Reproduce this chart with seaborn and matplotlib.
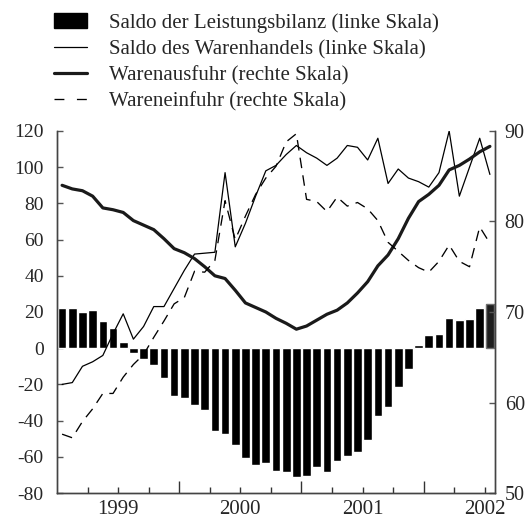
import matplotlib
matplotlib.use("Agg")
import matplotlib.pyplot as plt
import seaborn as sns
import numpy as np
import pandas as pd
from matplotlib.patches import Patch
from matplotlib.lines import Line2D

# monthly data, Jan 1999 .. Jul 2002
months = pd.period_range("1999-01", "2002-07", freq="M").astype(str).tolist()

current_account = [22.1, 22.1, 19.9, 21.0, 15.1, 11.0, 3.3,
                   -2.6, -5.9, -9.2, -16.4, -26.3, -27.6, -31.3, -34.1,
                   -45.9, -47.3, -53.4, -60.6, -64.5, -63.5, -67.8, -68.5,
                   -71.1, -70.5, -65.6, -68.3, -62.2, -59.3, -57.3, -50.8,
                   -37.4, -32.4, -21.4, -11.4,
                   1.7, 7.4, 7.9, 16.6, 15.5, 16.0, 22.1, 24.3]
trade_balance = [-20, -19, -10, -7.5, -4, 8, 19, 5, 12, 23,
                 23, 33, 43, 52, 52.5, 53, 97, 56, 69, 84,
                 98, 101, 107, 112, 108, 105, 101, 105, 112, 111,
                 104, 116, 91, 99, 94, 92, 89, 97, 120, 84,
                 100, 116, 96]
exports = [84.0, 83.6, 83.4, 82.8, 81.5, 81.3, 81.0, 80.1, 79.6, 79.1,
           78.1, 77.0, 76.55, 75.9, 75.0, 74.0, 73.7, 72.4, 71.0, 70.5,
           70.0, 69.3, 68.75, 68.1, 68.45, 69.1, 69.75, 70.2, 71.0, 72.1,
           73.35, 75.1, 76.3, 78.1, 80.35, 82.2, 83.0, 84.0, 85.7, 86.2,
           86.9, 87.7, 88.3]
imports = [56.5, 56.1, 57.9, 59.3, 61.0, 61.0, 62.8, 64.2, 65.3, 67.2,
           69.0, 70.9, 71.6, 74.5, 74.4, 75.7, 82.3, 78.0, 80.6, 83.0,
           84.8, 86.1, 88.8, 89.7, 82.45, 82.2, 81.1, 82.7, 81.7, 82.1,
           81.4, 80.1, 77.7, 76.7, 75.7, 74.9, 74.4, 75.6, 77.4, 75.6,
           75.0, 79.4, 77.6]
year_labels = ["1999", "2000", "2001", "2002"]
left_ticks = [-80, -60, -40, -20, 0, 20, 40, 60, 80, 100, 120]
right_ticks = [50, 60, 70, 80, 90]
legend_labels = ["Saldo der Leistungsbilanz (linke Skala)",
                 "Saldo des Warenhandels (linke Skala)",
                 "Warenausfuhr (rechte Skala)",
                 "Wareneinfuhr (rechte Skala)"]

df = pd.DataFrame({"month": months, "ca": current_account, "tb": trade_balance,
                   "exp": exports, "imp": imports})
df["t"] = np.arange(len(df))

sns.set_style("ticks")
plt.rcParams['font.family'] = ['Liberation Serif', 'DejaVu Serif']
plt.rcParams['axes.unicode_minus'] = False

W, H = 528, 518
fig = plt.figure(figsize=(W / 100, H / 100), dpi=100)
ax = fig.add_axes([57 / W, 25 / H, 438 / W, 362 / H])

sns.barplot(data=df, x="t", y="ca", native_scale=True, color="black",
            saturation=1, width=0.85, errorbar=None, ax=ax, zorder=1)
last = ax.patches[-1]
last.set_facecolor("#1e1e1e")
last.set_edgecolor("#707070")
last.set_linewidth(1.0)

sns.lineplot(data=df, x="t", y="tb", ax=ax, color="black", linewidth=0.9, zorder=3)

ax2 = ax.twinx()
sns.lineplot(data=df, x="t", y="exp", ax=ax2, color="#1a1a1a", linewidth=2.3)
sns.lineplot(data=df, x="t", y="imp", ax=ax2, color="black", linewidth=0.95,
             linestyle="--")
ax2.lines[-1].set_dashes([8, 5.5])

ax.set_xlim(-0.5, 42.5)
ax.set_ylim(-80, 120)
ax2.set_ylim(50, 90)

# x ticks: long at year boundaries, short at quarters, labels mid-year
year_pos = [11.5, 23.5, 35.5]
quarter_pos = [p for p in np.arange(2.5, 42, 3) if p not in year_pos]
ax.set_xticks(year_pos)
ax.set_xticklabels([])
ax.set_xticks(quarter_pos, minor=True)
mid = {5.5: year_labels[0], 17.5: year_labels[1], 29.5: year_labels[2], 41.5: year_labels[3]}
ax.set_xticklabels([mid.get(p, "") for p in quarter_pos], minor=True)
ax.tick_params(axis="x", which="major", direction="in", length=9, width=1, color="#333")
ax.tick_params(axis="x", which="minor", direction="in", length=4.5, width=1, color="#333",
               labelsize=15, pad=5)

ax.set_yticks(left_ticks)
ax.tick_params(axis="y", direction="in", length=4.5, width=1, color="#555",
               labelsize=14, pad=9.5)
ax2.set_yticks(right_ticks)
ax2.tick_params(axis="y", direction="in", length=4.5, width=1, color="#555",
                labelsize=14.5, pad=7)

for a in (ax, ax2):
    a.set_xlabel("")
    a.set_ylabel("")
    a.spines["top"].set_visible(False)
    for s in ("left", "right", "bottom"):
        a.spines[s].set_color("#444")
        a.spines[s].set_linewidth(1.0)

handles = [Patch(facecolor="black", edgecolor="black"),
           Line2D([], [], color="black", linewidth=0.9),
           Line2D([], [], color="#1a1a1a", linewidth=2.3),
           Line2D([], [], color="black", linewidth=0.95, dashes=[7.5, 9.5])]
fig.legend(handles, legend_labels, loc="upper left", bbox_to_anchor=(54 / W, 1 - 13 / H),
           frameon=False, fontsize=15, handlelength=1.6, handleheight=0.75,
           handletextpad=1.05, labelspacing=0.3, borderaxespad=0, borderpad=0)

fig.savefig("out.png", dpi=100)
